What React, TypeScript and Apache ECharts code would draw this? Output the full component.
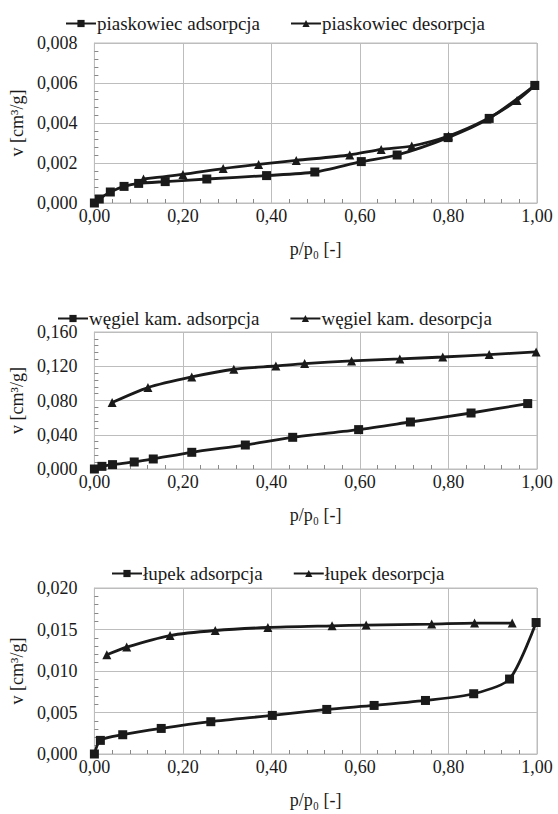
import React, { useEffect, useRef } from "react";
import * as echarts from "echarts";

const xTicks = [0, 0.2, 0.4, 0.6, 0.8, 1.0];

const piaskowiecAdsX = [0, 0.011, 0.036, 0.067, 0.1, 0.16, 0.254, 0.389, 0.498, 0.603, 0.684, 0.799, 0.892, 0.995];
const piaskowiecAdsY = [0, 0.0002, 0.00055, 0.00083, 0.00098, 0.00107, 0.0012, 0.00137, 0.00155, 0.00207, 0.0024, 0.00327, 0.00423, 0.00588];
const piaskowiecDesX = [0.995, 0.955, 0.887, 0.8, 0.717, 0.648, 0.577, 0.456, 0.371, 0.291, 0.2, 0.111];
const piaskowiecDesY = [0.00588, 0.00513, 0.0042, 0.00335, 0.00285, 0.00268, 0.0024, 0.00213, 0.00193, 0.00172, 0.00143, 0.0012];

const wegielAdsX = [0, 0.017, 0.041, 0.09, 0.133, 0.22, 0.341, 0.448, 0.597, 0.714, 0.851, 0.979];
const wegielAdsY = [0, 0.0031, 0.0051, 0.0082, 0.0117, 0.0195, 0.028, 0.037, 0.046, 0.0549, 0.0654, 0.0764];
const wegielDesX = [0.998, 0.892, 0.787, 0.69, 0.581, 0.475, 0.41, 0.315, 0.22, 0.121, 0.04];
const wegielDesY = [0.1367, 0.1336, 0.1308, 0.1285, 0.1262, 0.1231, 0.1203, 0.1165, 0.1075, 0.0951, 0.0776];

const lupekAdsX = [0, 0.0135, 0.064, 0.151, 0.263, 0.402, 0.525, 0.632, 0.748, 0.857, 0.938, 0.998];
const lupekAdsY = [0, 0.00164, 0.00232, 0.00308, 0.00389, 0.00465, 0.00537, 0.00585, 0.00645, 0.00726, 0.00903, 0.01584];
const lupekDesX = [0.944, 0.859, 0.762, 0.614, 0.537, 0.392, 0.273, 0.171, 0.073, 0.028];
const lupekDesY = [0.01577, 0.01577, 0.01565, 0.01553, 0.01544, 0.01524, 0.01488, 0.01427, 0.01288, 0.01195];

const panels = [
  {
    ads: "piaskowiec adsorpcja",
    des: "piaskowiec desorpcja",
    adsX: piaskowiecAdsX, adsY: piaskowiecAdsY, desX: piaskowiecDesX, desY: piaskowiecDesY,
    yMax: 0.008, yInterval: 0.002,
  },
  {
    ads: "węgiel kam. adsorpcja",
    des: "węgiel kam. desorpcja",
    adsX: wegielAdsX, adsY: wegielAdsY, desX: wegielDesX, desY: wegielDesY,
    yMax: 0.16, yInterval: 0.04,
  },
  {
    ads: "łupek adsorpcja",
    des: "łupek desorpcja",
    adsX: lupekAdsX, adsY: lupekAdsY, desX: lupekDesX, desY: lupekDesY,
    yMax: 0.02, yInterval: 0.005,
  },
];

const layout = [
  { top: 43, height: 160, legendTop: 9, legendLeft: 60 },
  { top: 332, height: 137, legendTop: 304, legendLeft: 52 },
  { top: 588, height: 166, legendTop: 559, legendLeft: 106 },
];

const FONT = "'Liberation Serif', 'Times New Roman', serif";
const GRID_COLOR = "#bdbdbd";
const INK = "#1a1a1a";

export default function App() {
  const ref = useRef<HTMLDivElement>(null);
  useEffect(() => {
    if (!ref.current) return;
    const chart = echarts.init(ref.current, undefined, { renderer: "svg" });
    const grid: any[] = [];
    const xAxis: any[] = [];
    const yAxis: any[] = [];
    const series: any[] = [];
    const legend: any[] = [];
    panels.forEach((p, i) => {
      const L = layout[i];
      grid.push({
        left: 91, width: 446, top: L.top, height: L.height,
        show: true, borderColor: GRID_COLOR, borderWidth: 1,
      });
      xAxis.push({
        type: "value", gridIndex: i, min: xTicks[0], max: xTicks[xTicks.length - 1], interval: 0.2,
        name: "p/p\u2080 [-]", nameLocation: "middle", nameGap: 37,
        nameTextStyle: { fontFamily: FONT, fontSize: 18, color: INK },
        axisLine: { show: true, lineStyle: { color: GRID_COLOR, width: 1 } },
        axisTick: { show: false, inside: true },
        minorTick: { show: true, splitNumber: 5, length: 4, lineStyle: { color: "#888", width: 1 } },
        splitLine: { show: true, lineStyle: { color: GRID_COLOR, width: 1 } },
        axisLabel: {
          fontFamily: FONT, fontSize: 18, color: INK, margin: 4,
          formatter: (v: number) => v.toFixed(2).replace(".", ","),
        },
      });
      yAxis.push({
        type: "value", gridIndex: i, min: 0, max: p.yMax, interval: p.yInterval,
        name: "v [cm³/g]", nameLocation: "middle", nameGap: 64,
        nameTextStyle: { fontFamily: FONT, fontSize: 18, color: INK },
        axisLine: { show: true, lineStyle: { color: GRID_COLOR, width: 1 } },
        axisTick: { show: false, inside: true },
        minorTick: { show: true, splitNumber: 5, length: 4, lineStyle: { color: "#888", width: 1 } },
        splitLine: { show: true, lineStyle: { color: GRID_COLOR, width: 1 } },
        axisLabel: {
          fontFamily: FONT, fontSize: 18, color: INK, margin: 17,
          formatter: (v: number) => v.toFixed(3).replace(".", ","),
        },
      });
      const common = {
        type: "line", xAxisIndex: i, yAxisIndex: i, smooth: 0.25,
        lineStyle: { color: INK, width: 2.8 },
        itemStyle: { color: INK },
      };
      series.push({
        ...common, name: p.ads, symbol: "rect", symbolSize: 9,
        data: p.adsX.map((x, k) => [x, p.adsY[k]]),
      });
      series.push({
        ...common, name: p.des, symbol: "triangle", symbolSize: 9,
        data: p.desX.map((x, k) => [x, p.desY[k]]),
      });
      legend.push({
        data: [p.ads, p.des], top: L.legendTop, left: L.legendLeft,
        itemWidth: 30, itemHeight: 9, itemGap: 30,
        textStyle: { fontFamily: FONT, fontSize: 19, color: INK, padding: [0, 0, 0, -4] },
      });
    });
    chart.setOption({
      animation: false,
      backgroundColor: "#ffffff",
      textStyle: { fontFamily: FONT },
      grid, xAxis, yAxis, series, legend,
    });
    return () => chart.dispose();
  }, []);
  return (
    <div
      ref={ref}
      style={{ position: "absolute", left: 0, top: 0, width: 558, height: 814, background: "#fff" }}
    />
  );
}
